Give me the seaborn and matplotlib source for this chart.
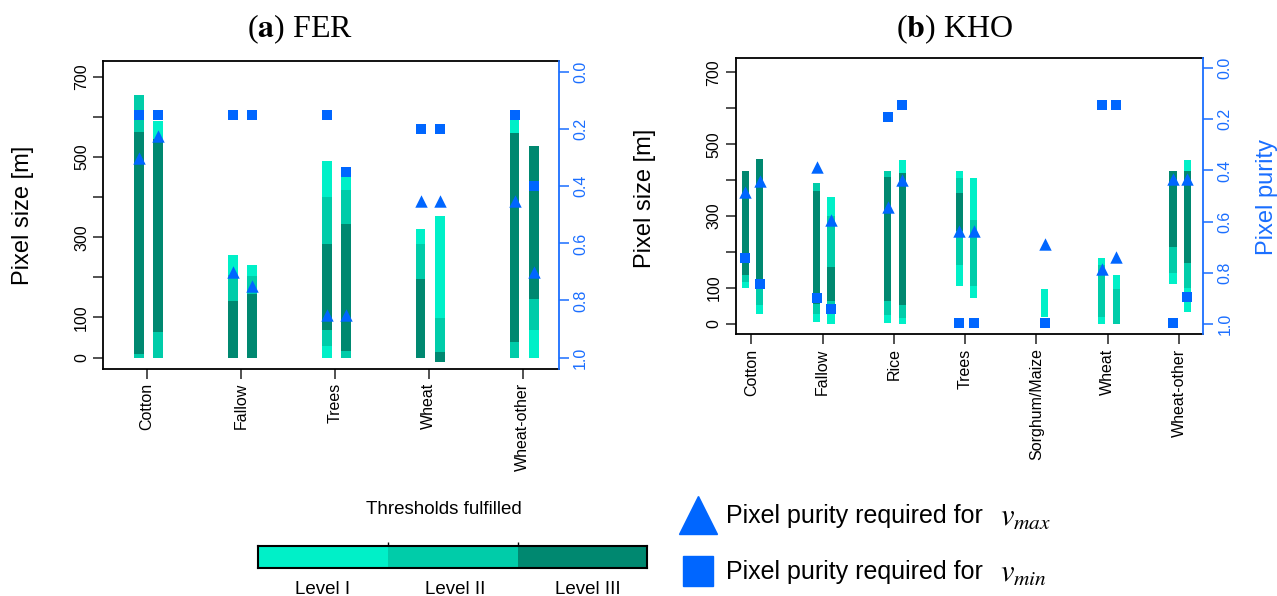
import numpy as np
import pandas as pd
import matplotlib
matplotlib.use("Agg")
import matplotlib.pyplot as plt
import seaborn as sns
from matplotlib.colors import ListedColormap

# ---------------- data ----------------
level_names = ["Level I", "Level II", "Level III"]
level_colors = ["#00F0C8", "#00CCA9", "#008870"]
marker_blue = "#0066FF"
axis_blue = "#1A6EFF"

# FER panel: segments (lower pixel size, upper pixel size, level) per class
fer_categories = ["Cotton", "Fallow", "Trees", "Wheat", "Wheat-other"]
fer_bar1 = [
    [(0, 10, 2), (10, 563, 3), (563, 654, 2)],
    [(0, 140, 3), (140, 205, 2), (205, 256, 1)],
    [(0, 28, 1), (28, 68, 2), (68, 284, 3), (284, 400, 2), (400, 491, 1)],
    [(0, 197, 3), (197, 284, 2), (284, 321, 1)],
    [(0, 40, 2), (40, 561, 3), (561, 618, 1)],
]
fer_bar2 = [
    [(0, 65, 2), (65, 545, 3), (545, 590, 1)],
    [(0, 159, 3), (159, 203, 2), (203, 230, 1)],
    [(0, 16, 2), (16, 333, 3), (333, 418, 2), (418, 455, 1)],
    [(-10, 15, 3), (15, 99, 2), (99, 354, 1)],
    [(0, 68, 1), (68, 145, 2), (145, 528, 3)],
]
fer_vmax1 = [0.30, 0.70, 0.85, 0.45, 0.45]
fer_vmax2 = [0.225, 0.75, 0.85, 0.45, 0.70]
fer_vmin1 = [0.15, 0.15, 0.15, 0.20, 0.15]
fer_vmin2 = [0.15, 0.15, 0.35, 0.20, 0.40]

# KHO panel
kho_categories = ["Cotton", "Fallow", "Rice", "Trees", "Sorghum/Maize", "Wheat", "Wheat-other"]
kho_bar1 = [
    [(100, 118, 1), (118, 137, 2), (137, 425, 3)],
    [(7, 27, 1), (27, 55, 2), (55, 371, 3), (371, 393, 2)],
    [(2, 25, 1), (25, 64, 2), (64, 410, 3), (410, 425, 2)],
    [(106, 165, 1), (165, 258, 2), (258, 365, 3), (365, 405, 2), (405, 425, 1)],
    [],
    [(0, 20, 1), (20, 165, 2), (165, 183, 1)],
    [(111, 141, 1), (141, 214, 2), (214, 425, 3)],
]
kho_bar2 = [
    [(27, 53, 1), (53, 100, 2), (100, 458, 3)],
    [(0, 30, 1), (30, 64, 2), (64, 158, 3), (158, 300, 2), (300, 353, 1)],
    [(0, 16, 1), (16, 53, 2), (53, 420, 3), (420, 457, 1)],
    [(72, 106, 1), (106, 289, 2), (289, 405, 1)],
    [(20, 98, 1)],
    [(0, 98, 2), (98, 137, 1)],
    [(34, 100, 1), (100, 169, 2), (169, 425, 3), (425, 457, 1)],
]
kho_vmax1 = [0.485, 0.386, 0.542, 0.638, np.nan, 0.786, 0.435]
kho_vmax2 = [0.442, 0.595, 0.439, 0.638, 0.687, 0.738, 0.435]
kho_vmin1 = [0.742, 0.897, 0.193, 0.995, np.nan, 0.144, 0.995]
kho_vmin2 = [0.845, 0.941, 0.144, 0.995, 0.995, 0.144, 0.893]

size_ticks = [0, 100, 200, 300, 400, 500, 600, 700]
size_ticklabels = ["0", "100", "", "300", "", "500", "", "700"]
purity_ticks = [0.0, 0.2, 0.4, 0.6, 0.8, 1.0]
purity_max_size = 712

# ---------------- style ----------------
sns.set_theme(style="white")
plt.rcParams["font.family"] = ["Liberation Sans", "DejaVu Sans"]
plt.rcParams["mathtext.fontset"] = "stix"
for k in ["text.color", "axes.labelcolor", "xtick.color", "ytick.color", "axes.edgecolor"]:
    plt.rcParams[k] = "black"

W, H = 1277, 596
fig = plt.figure(figsize=(W / 100, H / 100), dpi=100)


def px_rect(x0, y0, x1, y1):
    return [x0 / W, 1 - y1 / H, (x1 - x0) / W, (y1 - y0) / H]


offsets = [-0.085, 0.118]
bar_w = 0.1


def draw_panel(rect, cats, bars1, bars2, vmax1, vmax2, vmin1, vmin2, xlim):
    ax = fig.add_axes(rect)
    rows = []
    for b, bars in enumerate([bars1, bars2]):
        for i, segs in enumerate(bars):
            for lo, hi, lev in segs:
                rows.append(dict(x=i + offsets[b], bottom=lo, height=hi - lo, level=lev))
    seg = pd.DataFrame(rows)
    ax.bar(seg["x"], seg["height"], bottom=seg["bottom"], width=bar_w,
           color=[level_colors[l - 1] for l in seg["level"]], linewidth=0, zorder=2)
    pad = 0.04 * purity_max_size
    ax.set_ylim(-pad, purity_max_size + pad)
    ax.set_xlim(*xlim)
    ax.set_xticks(range(len(cats)))
    ax.set_xticklabels(cats, rotation=90, fontsize=11.5, color="black")
    ax.set_yticks(size_ticks)
    ax.set_yticklabels(size_ticklabels, rotation=90, va="center", fontsize=11.5, color="black")
    ax.tick_params(axis="both", direction="out", length=7.2, width=1.1, color="#222222",
                   left=True, bottom=True, pad=3)
    for s in ["left", "top", "bottom"]:
        ax.spines[s].set_color("black")
        ax.spines[s].set_linewidth(1.3)
    ax.spines["right"].set_visible(False)

    ax2 = ax.twinx()
    mk = []
    for b, (vx, vn) in enumerate([(vmax1, vmin1), (vmax2, vmin2)]):
        for i in range(len(cats)):
            mk.append(dict(x=i + offsets[b], purity=vx[i], kind="vmax"))
            mk.append(dict(x=i + offsets[b], purity=vn[i], kind="vmin"))
    mk = pd.DataFrame(mk).dropna()
    sns.scatterplot(data=mk[mk.kind == "vmax"], x="x", y="purity", marker="^", s=80,
                    color=marker_blue, linewidth=0, ax=ax2, zorder=5, legend=False)
    sns.scatterplot(data=mk[mk.kind == "vmin"], x="x", y="purity", marker="s", s=60,
                    color=marker_blue, linewidth=0, ax=ax2, zorder=5, legend=False)
    ax2.set_ylim(1 + 0.04, -0.04)
    ax2.set_xlim(*xlim)
    ax2.set_xlabel("")
    ax2.set_ylabel("")
    ax2.set_yticks(purity_ticks)
    ax2.set_yticklabels([f"{t:.1f}" for t in purity_ticks], rotation=90, va="center",
                        fontsize=11.5, color=axis_blue)
    ax2.tick_params(axis="y", direction="out", length=7.2, width=1.1, color=axis_blue,
                    right=True, pad=3)
    for s in ["left", "top", "bottom"]:
        ax2.spines[s].set_visible(False)
    ax2.spines["right"].set_color(axis_blue)
    ax2.spines["right"].set_linewidth(1.3)
    ax2.grid(False)
    ax.grid(False)
    return ax, ax2


draw_panel(px_rect(103.3, 60.7, 559, 369), fer_categories, fer_bar1, fer_bar2,
           fer_vmax1, fer_vmax2, fer_vmin1, fer_vmin2, (-0.464, 4.386))
draw_panel(px_rect(735.7, 57.7, 1203.3, 334.3), kho_categories, kho_bar1, kho_bar2,
           kho_vmax1, kho_vmax2, kho_vmin1, kho_vmin2, (-0.219, 6.34))

# axis labels
fig.text(23 / W, 1 - 215 / H, "Pixel size [m]", rotation=90, ha="center", va="center", fontsize=17)
fig.text(645 / W, 1 - 198 / H, "Pixel size [m]", rotation=90, ha="center", va="center", fontsize=17)
fig.text(1267 / W, 1 - 197 / H, "Pixel purity", rotation=90, ha="center", va="center",
         fontsize=17, color=axis_blue)

# titles
fig.text(300 / W, 1 - 29 / H, r"($\mathbf{a}$) FER", ha="center", va="center", fontsize=23,
         family=["Liberation Serif"])
fig.text(955 / W, 1 - 29 / H, r"($\mathbf{b}$) KHO", ha="center", va="center", fontsize=23,
         family=["Liberation Serif"])

# legend: threshold levels
cax = fig.add_axes(px_rect(258.3, 546, 647.3, 568.3))
cax.imshow(np.arange(len(level_colors)).reshape(1, -1), cmap=ListedColormap(level_colors),
           aspect="auto", extent=(0, 3, 0, 1))
cax.set_xlim(0, 3)
cax.set_ylim(0, 1)
cax.set_yticks([])
cax.set_xticks([1, 2])
cax.set_xticklabels([])
cax.tick_params(axis="x", bottom=False, top=True, direction="out", length=3, width=1, color="black")
for s in cax.spines.values():
    s.set_color("black")
    s.set_linewidth(1.5)
for name, xc in zip(level_names, [322.5, 455, 587.5]):
    fig.text(xc / W, 1 - 589 / H, name, ha="center", va="center", fontsize=13.5)
fig.text(444 / W, 1 - 510 / H, "Thresholds fulfilled", ha="center", va="center", fontsize=13.5)

# legend: markers
lax = fig.add_axes([0, 0, 1, 1])
lax.set_xlim(0, W)
lax.set_ylim(H, 0)
lax.axis("off")
lax.plot([698], [515], marker="^", ms=27, color=marker_blue, ls="none")
lax.plot([698], [571], marker="s", ms=21, color=marker_blue, ls="none")
lax.text(726, 516, "Pixel purity required for", ha="left", va="center", fontsize=18)
lax.text(1000, 518, r"$v_{max}$", ha="left", va="center", fontsize=22)
lax.text(726, 572, "Pixel purity required for", ha="left", va="center", fontsize=18)
lax.text(1000, 574, r"$v_{min}$", ha="left", va="center", fontsize=22)

fig.savefig("out.png", dpi=100)
